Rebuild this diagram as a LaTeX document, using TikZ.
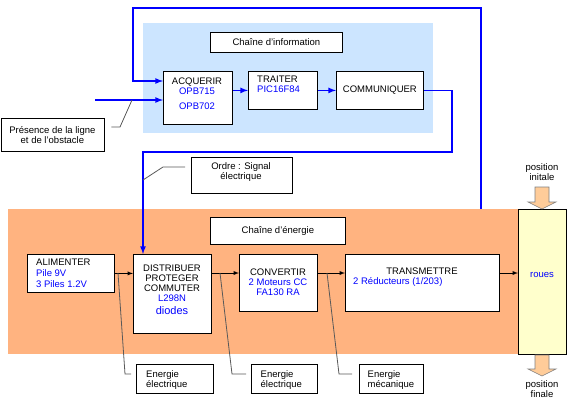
\documentclass[tikz,border=0pt]{standalone}
\usepackage{fontspec}
\setmainfont{Liberation Sans}
\usetikzlibrary{arrows}

\definecolor{infobg}{RGB}{204,229,255}
\definecolor{energbg}{RGB}{255,179,128}
\definecolor{rouebg}{RGB}{255,255,204}
\definecolor{flechebg}{RGB}{255,204,153}

\begin{document}
\begin{tikzpicture}[x=1pt,y=-1pt,
	box/.style={draw, line width=0.8pt, fill=white, anchor=north west, inner sep=0pt, font=\fontsize{9.5}{10}\selectfont},
	txt/.style={inner sep=0pt, font=\fontsize{9.5}{10}\selectfont},
	bl/.style={txt, text=blue},
	sig/.style={draw=blue, line width=1.6pt, -latex},
	nrj/.style={line width=0.9pt, -latex},
	call/.style={draw=black!65, line width=0.8pt},
	fleche/.style={fill=flechebg, draw=gray, line width=0.6pt}]
	\useasboundingbox (0,0) rectangle (567,400);
	
	% fonds des deux chaines
	\fill[infobg] (143,23) rectangle (433,133);
	\fill[energbg] (8,209) rectangle (518,354);
	
	% chaine d'information
	\node[box, minimum width=132, minimum height=20] (ci) at (210,32) {Chaîne d'information};
	\node[box, minimum width=69, minimum height=53] (acq) at (163,71) {};
	\node[txt, anchor=north] (acqT) at (197,77.5) {ACQUERIR};
	\node[bl, anchor=north] (opb1) at (197,88) {OPB715};
	\node[bl, anchor=north] (opb2) at (197,103) {OPB702};
	\node[box, minimum width=69, minimum height=38] (trait) at (248,71) {};
	\node[txt, anchor=north west, align=left] (traitT) at (257,76) {TRAITER\\\textcolor{blue}{PIC16F84}};
	\node[box, minimum width=87, minimum height=38] (comm) at (336,71) {COMMUNIQUER};
	
	% boites de commentaire
	\node[box, minimum width=103, minimum height=33, align=center] (pres) at (0.5,118) {Présence de la ligne\\et de l'obstacle};
	\node[box, minimum width=101, minimum height=36] (ordre) at (191,157) {};
	\node[txt, anchor=north, align=center] (ordreT) at (241,162.5) {Ordre : Signal\\électrique};
	
	% chaine d'energie
	\node[box, minimum width=135, minimum height=27] (ce) at (210,217) {Chaîne d'énergie};
	\node[box, minimum width=87, minimum height=38] (alim) at (27,254) {};
	\node[txt, anchor=north west, align=left, font=\fontsize{9.5}{11}\selectfont] (alimT) at (36,258.5) {ALIMENTER\\\textcolor{blue}{Pile 9V}\\\textcolor{blue}{3 Piles 1.2V}};
	\node[box, minimum width=78, minimum height=79] (dist) at (133,254) {};
	\node[txt, anchor=north, align=center] (distT) at (172,264.5) {DISTRIBUER\\PROTEGER\\COMMUTER\\\textcolor{blue}{L298N}};
	\node[bl, font=\fontsize{11}{12}\selectfont] (diodes) at (172,311) {diodes};
	\node[box, minimum width=78, minimum height=57] (conv) at (239,254) {};
	\node[txt, anchor=north, align=center] (convT) at (278,268.5) {CONVERTIR\\\textcolor{blue}{2 Moteurs CC}\\\textcolor{blue}{FA130 RA}};
	\node[box, minimum width=154, minimum height=57] (trans) at (345,254) {};
	\node[txt] (transT) at (422,271) {TRANSMETTRE};
	\node[bl, anchor=west] (red) at (353,282) {2 Réducteurs (1/203)};
	\node[box, minimum width=48, minimum height=145, fill=rouebg] (roues) at (518,209) {};
	\node[bl] (rouesT) at (542,275) {roues};
	
	% positions des roues
	\node[txt, anchor=north, align=center] (posI) at (542,163.5) {position\\initale};
	\filldraw[fleche] (535,187) -- (549,187) -- (549,202) -- (556,202) -- (542,209) -- (528,202) -- (535,202) -- cycle;
	\filldraw[fleche] (535,355) -- (549,355) -- (549,369) -- (556,369) -- (542,376) -- (528,369) -- (535,369) -- cycle;
	\node[txt, anchor=north, align=center] (posF) at (542,380.5) {position\\finale};
	
	% energies
	\node[box, minimum width=77, minimum height=29] (e1) at (136,364) {};
	\node[txt, anchor=north west, align=left] (e1T) at (146,370.5) {Energie\\électrique};
	\node[box, minimum width=66, minimum height=29] (e2) at (251,364) {};
	\node[txt, anchor=north west, align=left] (e2T) at (260.5,370.5) {Energie\\électrique};
	\node[box, minimum width=64, minimum height=29] (e3) at (359,364) {};
	\node[txt, anchor=north west, align=left] (e3T) at (367.5,370.5) {Energie\\mécanique};
	
	% signaux (bleu)
	\coordinate (retour) at (481,209);
	\coordinate (haut) at (133,8);
	\coordinate (capteur) at (95,100);
	\coordinate (ordreC) at (452,152);
	\draw[sig] (retour) |- (haut) |- ([yshift=-10pt]acq.north west);
	\draw[sig] (capteur) -- (capteur -| acq.west);
	\draw[sig] (acq.east |- trait.west) -- (trait.west);
	\draw[sig] (trait.east) -- (comm.west);
	\draw[sig] (comm.east) -| (ordreC) -| ([xshift=10pt]dist.north west);
	
	% flux d'energie
	\coordinate (flux) at (0,273);
	\draw[nrj] (alim.east) -- (alim.east -| dist.west);
	\draw[nrj] (dist.east |- flux) -- (conv.west |- flux);
	\draw[nrj] (conv.east |- flux) -- (trans.west |- flux);
	\draw[nrj] (trans.east |- flux) -- (roues.west |- flux);
	
	% traits de commentaire
	\coordinate (k1) at (118,273);
	\coordinate (k2) at (220,273);
	\coordinate (k3) at (327,273);
	\draw[call, shorten >=5pt] (k1) -- (125,374) -- (e1.west |- 0,374);
	\draw[call, shorten >=5pt] (k2) -- (232,374) -- (e2.west |- 0,374);
	\draw[call, shorten >=7pt] (k3) -- (339,374) -- (e3.west |- 0,374);
	\draw[call, shorten >=6pt] (143,180) -- (163,167) -- (ordre.west |- 0,167);
	\draw[call, shorten >=7pt] (132,100) -- (120,127) -- (pres.east |- 0,127);
\end{tikzpicture}
\end{document}
